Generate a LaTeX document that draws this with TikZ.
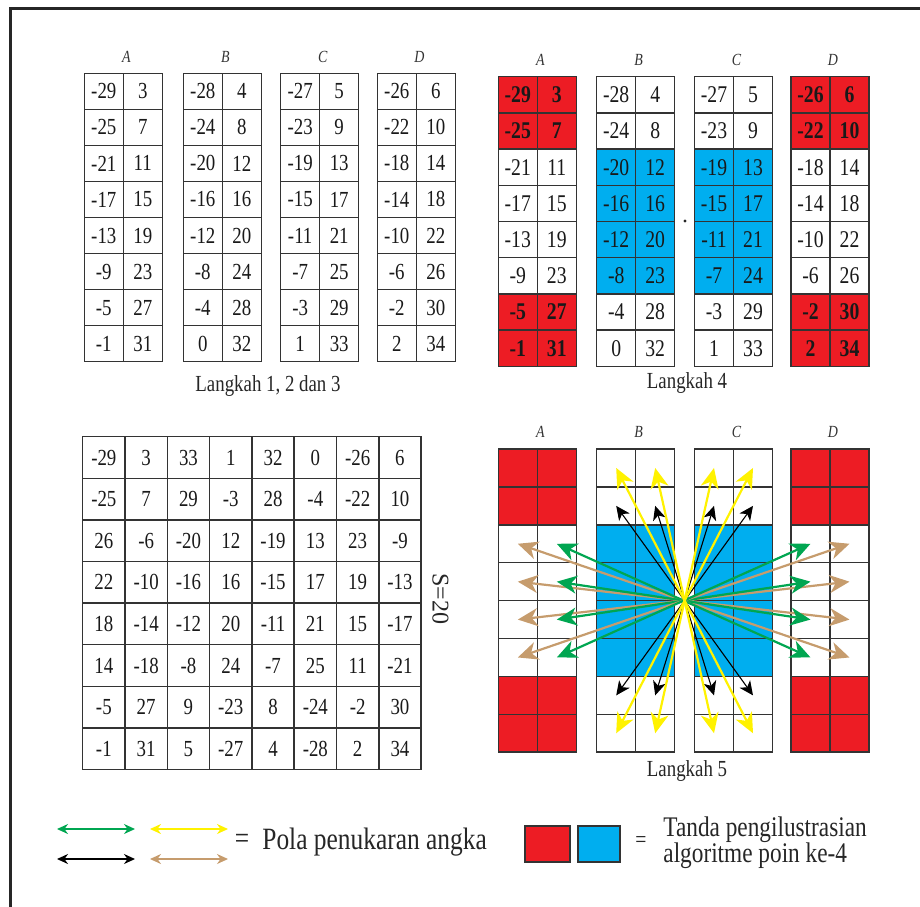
\documentclass[tikz,border=0pt]{standalone}
\usepackage{fontspec}
\setmainfont{Liberation Serif}[FakeStretch=0.82]
\newfontfamily\wideserif{Liberation Serif}
\usetikzlibrary{arrows.meta}

\definecolor{sqred}{HTML}{ED1C24}
\definecolor{sqblue}{HTML}{00AEEF}
\definecolor{swgreen}{HTML}{00A651}
\definecolor{swyellow}{HTML}{FFF200}
\definecolor{swbrown}{HTML}{C69C6D}

\tikzset{
  frame/.style={line width=1.5pt,draw=black!85},
  colname/.style={font=\fontsize{8.5}{8.5}\selectfont\itshape,text=black!80},
  cell/.style={draw=black!80,line width=0.75pt,inner sep=0pt,text=black!90},
  cellone/.style={cell,minimum width=19.5pt,minimum height=18pt,font=\fontsize{11.5}{12}\selectfont},
  celltwo/.style={cell,minimum width=19.5pt,minimum height=18.1pt,font=\fontsize{12}{12}\selectfont},
  cellbig/.style={cell,minimum width=21.15pt,minimum height=20.8pt,font=\fontsize{11.5}{12}\selectfont},
  cellfive/.style={cell,minimum width=19.5pt,minimum height=18.95pt},
  tint0/.style={},
  tint1/.style={fill=sqred,font=\fontsize{12}{12}\selectfont\bfseries},
  tint2/.style={fill=sqblue},
  caption/.style={font=\fontsize{11.5}{13}\selectfont,text=black!85},
  swapbig/.style={line width=1.1pt,arrows={Stealth[length=10pt,width=9pt,inset=3pt]-Stealth[length=10pt,width=9pt,inset=3pt]}},
  swapthin/.style={line width=0.55pt,arrows={Stealth[length=7pt,width=6.5pt,inset=2pt]-Stealth[length=7pt,width=6.5pt,inset=2pt]}},
  legendarrow/.style={line width=0.8pt,arrows={Stealth[length=5.5pt,width=5pt]-Stealth[length=5.5pt,width=5pt]}},
}

\begin{document}
\begin{tikzpicture}[x=0.5pt,y=-0.5pt]
\useasboundingbox (0,0) rectangle (920,906);
\draw[frame] (10.5,920) -- (10.5,8.5) -- (930,8.5);

% Langkah 1, 2 dan 3
\foreach \col/\lx/\k in {A/84.3/0,B/183.3/1,C/280.7/2,D/377.3/3} {
  \node[colname] (t1-\col) at (\lx+42,57) {\col};
  \foreach \r in {0,...,7} {
    \pgfmathtruncatemacro\lv{-29+\k+4*\r}
    \pgfmathtruncatemacro\rv{3+\k+4*\r}
    \node[cellone] (t1-\col-\r-0) at (\lx+19.5,91.3+36.05*\r) {\lv};
    \node[cellone] (t1-\col-\r-1) at (\lx+58.5,91.3+36.05*\r) {\rv};
  }
}
\node[caption] (cap1) at (268,386) {Langkah 1, 2 dan 3};

% Langkah 4
\foreach \col/\lx/\tp/\pairs in {
  A/498.3/1/{-29/3,-25/7,-21/11,-17/15,-13/19,-9/23,-5/27,-1/31},
  B/596.7/0/{-28/4,-24/8,-20/12,-16/16,-12/20,-8/23,-4/28,0/32},
  C/694.5/0/{-27/5,-23/9,-19/13,-15/17,-11/21,-7/24,-3/29,1/33},
  D/791/1/{-26/6,-22/10,-18/14,-14/18,-10/22,-6/26,-2/30,2/34}} {
  \node[colname] (t2-\col) at (\lx+42,60) {\col};
  \foreach \lv/\rv [count=\r from 0] in \pairs {
    \pgfmathtruncatemacro\edge{(\r<2)||(\r>5)}
    \pgfmathtruncatemacro\shade{\tp==1 ? \edge : 2*(1-\edge)}
    \node[celltwo,tint\shade] (t2-\col-\r-0) at (\lx+19.5,94.8+36.2*\r) {\lv};
    \node[celltwo,tint\shade] (t2-\col-\r-1) at (\lx+58.5,94.8+36.2*\r) {\rv};
  }
}
\fill[black!85] (685,221) circle (1.6);
\node[caption] (cap4) at (687,383) {Langkah 4};

% magic square
\foreach \row [count=\r from 0] in {
  {-29,3,33,1,32,0,-26,6},
  {-25,7,29,-3,28,-4,-22,10},
  {26,-6,-20,12,-19,13,23,-9},
  {22,-10,-16,16,-15,17,19,-13},
  {18,-14,-12,20,-11,21,15,-17},
  {14,-18,-8,24,-7,25,11,-21},
  {-5,27,9,-23,8,-24,-2,30},
  {-1,31,5,-27,4,-28,2,34}} {
  \foreach \v [count=\c from 0] in \row {
    \node[cellbig] (t3-\r-\c) at (103.85+42.3*\c,457.5+41.6*\r) {\v};
  }
}
\node[font=\wideserif\fontsize{12}{12}\selectfont,text=black!85,rotate=-90] (sum) at (440.5,599) {S=20};

% Langkah 5
\foreach \col/\lx/\tp in {A/498.3/1,B/596.7/0,C/694.5/0,D/791/1} {
  \node[colname] (t4-\col) at (\lx+42,431.7) {\col};
  \foreach \r in {0,...,7} {
    \pgfmathtruncatemacro\edge{(\r<2)||(\r>5)}
    \pgfmathtruncatemacro\shade{\tp==1 ? \edge : 2*(1-\edge)}
    \node[cellfive,tint\shade] (t4-\col-\r-0) at (\lx+19.5,467.95+37.9*\r) {};
    \node[cellfive,tint\shade] (t4-\col-\r-1) at (\lx+58.5,467.95+37.9*\r) {};
  }
}
\foreach \p/\q in {B/C,C/B} {
  \foreach \c in {0,1} {
    \pgfmathtruncatemacro\cc{1-\c}
    \draw[swapthin,draw=black] (t4-\p-1-\c.center) -- (t4-\q-6-\cc.center);
  }
}
\foreach \r in {2,...,5} {
  \pgfmathtruncatemacro\rr{7-\r}
  \draw[swapbig,draw=swbrown] (t4-A-\r-0.center) -- (t4-D-\rr-1.center);
  \draw[swapbig,draw=swgreen] (t4-A-\r-1.center) -- (t4-D-\rr-0.center);
}
\foreach \p/\q in {B/C,C/B} {
  \foreach \c in {0,1} {
    \pgfmathtruncatemacro\cc{1-\c}
    \draw[swapbig,draw=swyellow] (t4-\p-0-\c.center) -- (t4-\q-7-\cc.center);
  }
}
\node[caption] (cap5) at (687,771) {Langkah 5};

% legend
\coordinate (lg-g0) at (57,829);
\coordinate (lg-g1) at (135,829);
\coordinate (lg-y0) at (150,829);
\coordinate (lg-y1) at (228,829);
\coordinate (lg-k0) at (57,859);
\coordinate (lg-k1) at (135,859);
\coordinate (lg-b0) at (150,859);
\coordinate (lg-b1) at (228,859);
\draw[legendarrow,draw=swgreen] (lg-g0) -- (lg-g1);
\draw[legendarrow,draw=swyellow] (lg-y0) -- (lg-y1);
\draw[legendarrow,draw=black] (lg-k0) -- (lg-k1);
\draw[legendarrow,draw=swbrown] (lg-b0) -- (lg-b1);
\node[font=\fontsize{15.5}{15.5}\selectfont,text=black!85] (eq1) at (242,841) {=};
\node[font=\fontsize{15.5}{15.5}\selectfont,text=black!85,anchor=west,inner sep=0pt] (pola) at (262,842) {Pola penukaran angka};
\node[draw=black!80,line width=0.75pt,fill=sqred,minimum width=22.5pt,minimum height=18pt] (lg-red) at (547.5,844) {};
\node[draw=black!80,line width=0.75pt,fill=sqblue,minimum width=21pt,minimum height=18pt] (lg-blue) at (599,844) {};
\node[font=\fontsize{12}{12}\selectfont,text=black!85] (eq2) at (641,842) {=};
\node[font=\fontsize{14.2}{13}\selectfont,text=black!85,anchor=west,align=left,inner sep=0pt] (tanda) at (663,843) {Tanda pengilustrasian\\algoritme poin ke-4};
\end{tikzpicture}
\end{document}
